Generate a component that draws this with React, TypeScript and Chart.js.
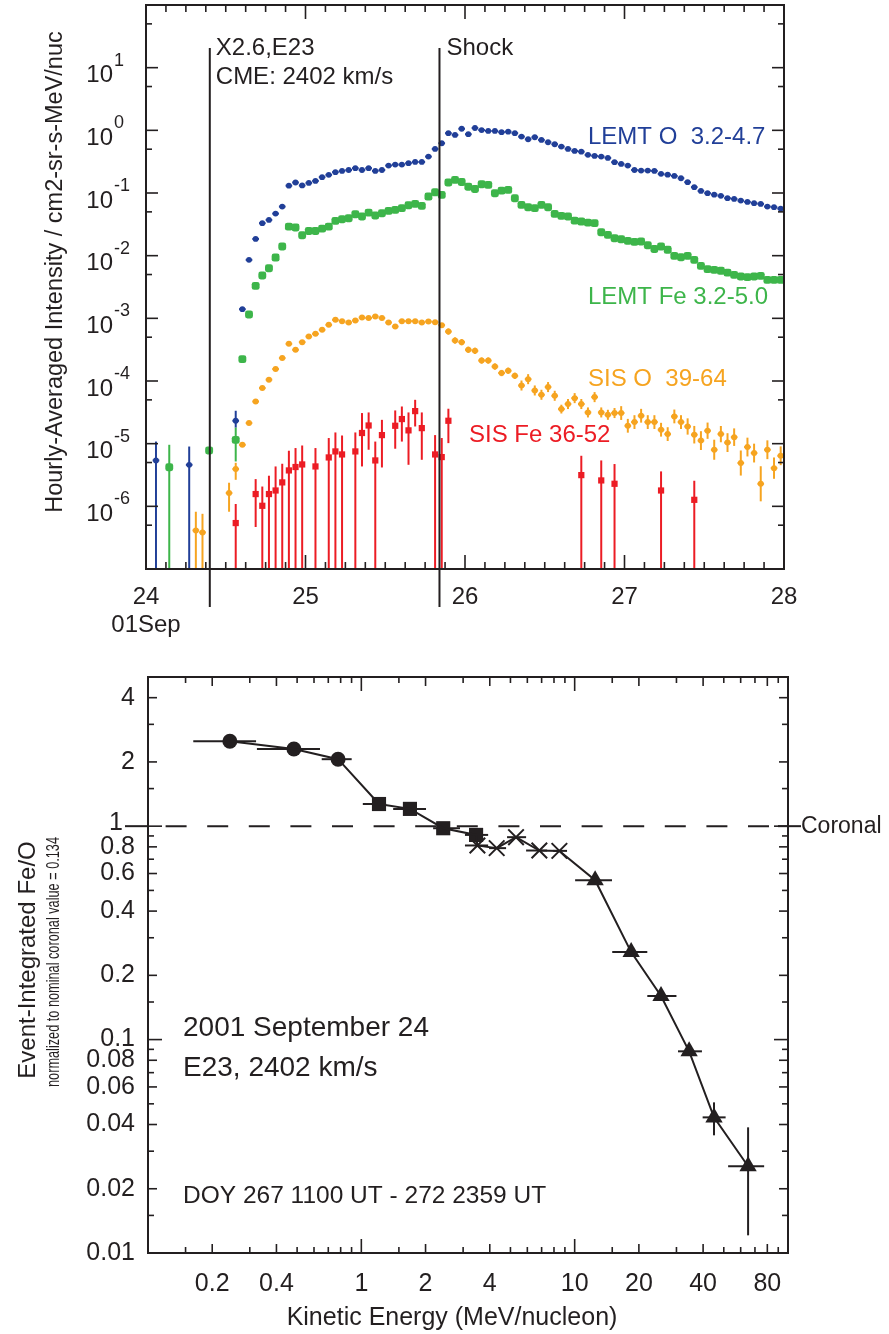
import React, { useEffect, useRef } from 'react';
import { Chart, registerables } from 'chart.js';

Chart.register(...registerables);

const FONT = '"Liberation Sans", Arial, Helvetica, sans-serif';
const INK = '#231f20';
const BLUE = '#213f98';
const GREEN = '#3db54a';
const ORANGE = '#f6a420';
const RED = '#ec1c24';

// ================= TOP PANEL (hourly averages, hours after 24 Sep 00 UT) =================
const dayTicks = [24, 25, 26, 27, 28];
const yExponents = [-6, -5, -4, -3, -2, -1, 0, 1];
const flareDay = 24.4;
const shockDay = 25.84;

// LEMT O 3.2-4.7
const lemtOPreHours = [1, 6, 13];
const lemtOPre = [5.4e-6, 4.6e-6, 2.32e-5];
const lemtOPreHi = [1.08e-5, 9.0e-6, 3.35e-5];
const lemtOPreLo = [0, 0, 1.8e-5];
const lemtOStartHour = 14;
const lemtO = [
  1.40e-3, 8.57e-3, 1.85e-2, 3.30e-2, 3.72e-2, 4.69e-2, 6.07e-2,
  0.131, 0.147, 0.132, 0.145, 0.156, 0.179, 0.195, 0.215, 0.225, 0.233,
  0.249, 0.233, 0.249, 0.225, 0.233, 0.274, 0.284, 0.284, 0.299, 0.313,
  0.313, 0.381, 0.505, 0.622, 0.900, 0.845, 1.06, 0.867, 1.09, 1.01,
  0.977, 0.977, 0.933, 0.953, 0.900, 0.794, 0.721, 0.776, 0.703, 0.646,
  0.600, 0.550, 0.505, 0.469, 0.457, 0.406, 0.391, 0.381, 0.363, 0.310,
  0.291, 0.274, 0.233, 0.228, 0.228, 0.225, 0.202, 0.196, 0.187, 0.172,
  0.149, 0.124, 0.108, 0.0993, 0.0942, 0.0900, 0.0826, 0.0805, 0.0757, 0.0721,
  0.0687, 0.0670, 0.0607, 0.0593, 0.0564,
];

// LEMT Fe 3.2-5.0
const lemtFePreHours = [3, 9, 13];
const lemtFePre = [4.2e-6, 7.8e-6, 1.15e-5];
const lemtFePreHi = [9.6e-6, null, 1.8e-5];
const lemtFePreLo = [0, null, 5.2e-6];
const lemtFeStartHour = 14;
const lemtFe = [
  2.23e-4, 1.15e-3, 3.30e-3, 4.82e-3, 6.31e-3, 9.33e-3, 1.40e-2,
  2.91e-2, 2.81e-2, 2.12e-2, 2.48e-2, 2.48e-2, 2.70e-2, 2.91e-2, 3.59e-2, 3.82e-2, 3.96e-2,
  4.59e-2, 4.21e-2, 4.86e-2, 4.37e-2, 4.76e-2, 5.19e-2, 5.37e-2, 5.73e-2, 6.38e-2, 6.70e-2,
  6.22e-2, 8.77e-2, 0.103, 9.33e-2, 0.147, 0.162, 0.150, 0.126, 0.116, 0.138,
  0.135, 9.93e-2, 0.109, 0.112, 8.26e-2, 6.46e-2, 5.93e-2, 5.73e-2, 6.46e-2, 5.93e-2,
  4.65e-2, 4.32e-2, 4.21e-2, 3.63e-2, 3.50e-2, 3.37e-2, 3.30e-2, 2.37e-2, 2.15e-2, 1.90e-2,
  1.83e-2, 1.72e-2, 1.66e-2, 1.68e-2, 1.47e-2, 1.28e-2, 1.40e-2, 1.24e-2, 9.93e-3, 9.46e-3,
  9.93e-3, 8.57e-3, 6.87e-3, 6.10e-3, 5.94e-3, 5.73e-3, 5.37e-3, 4.94e-3, 4.65e-3, 4.54e-3,
  4.65e-3, 4.76e-3, 4.11e-3, 4.11e-3, 4.11e-3,
];

// SIS O 39-64
const sisOPreHours = [7, 8, 12, 13];
const sisOPre = [4.13e-7, 3.84e-7, 1.63e-6, 3.93e-6];
const sisOPreHi = [8.2e-7, 7.6e-7, 2.38e-6, 4.95e-6];
const sisOPreLo = [0, 0, 8.2e-7, 2.65e-6];
const sisOStartHour = 14;
const sisO = [
  9.6e-6, 2.13e-5, 4.71e-5, 7.71e-5, 1.05e-4, 1.55e-4, 2.32e-4,
  3.92e-4, 3.15e-4, 4.17e-4, 5.13e-4, 5.66e-4, 6.56e-4, 7.87e-4, 9.46e-4, 9.02e-4, 8.57e-4,
  9.23e-4, 1.03e-3, 1.01e-3, 1.07e-3, 1.01e-3, 8.57e-4, 7.40e-4, 9.02e-4, 9.02e-4, 9.02e-4,
  8.57e-4, 8.89e-4, 8.69e-4, 7.78e-4, 6.15e-4, 4.43e-4, 4.17e-4, 3.15e-4, 3.03e-4, 2.12e-4,
  2.12e-4, 1.70e-4, 1.34e-4, 1.46e-4, 1.21e-4, 8.47e-5, 1.07e-4, 7.06e-5, 6.03e-5, 8.0e-5,
  5.81e-5, 3.56e-5, 4.29e-5, 5.33e-5, 4.29e-5, 3.15e-5, 5.53e-5, 3.15e-5, 2.89e-5, 3.08e-5,
  3.08e-5, 1.93e-5, 2.21e-5, 2.79e-5, 2.21e-5, 2.21e-5, 1.67e-5, 1.42e-5, 2.72e-5, 2.21e-5,
  1.88e-5, 1.39e-5, 1.12e-5, 1.61e-5, 8.0e-6, 1.42e-5, 1.04e-5, 1.27e-5, 4.91e-6, 8.83e-6,
  7.08e-6, 2.29e-6, 8.0e-6, 4.07e-6, 6.41e-6,
];
// half-width of the vertical error bar, in decades
const sisOErrDex = [
  0.03, 0.03, 0.03, 0.03, 0.03, 0.03, 0.03,
  0.03, 0.03, 0.03, 0.03, 0.03, 0.03, 0.03, 0.03, 0.03, 0.03,
  0.03, 0.03, 0.03, 0.03, 0.03, 0.03, 0.03, 0.03, 0.03, 0.03,
  0.03, 0.03, 0.03, 0.03, 0.05, 0.05, 0.05, 0.05, 0.05, 0.05,
  0.05, 0.05, 0.05, 0.05, 0.05, 0.08, 0.08, 0.08, 0.08, 0.08,
  0.08, 0.07, 0.08, 0.08, 0.08, 0.08, 0.08, 0.08, 0.08, 0.08,
  0.11, 0.11, 0.11, 0.11, 0.11, 0.11, 0.11, 0.11, 0.11, 0.11,
  0.13, 0.14, 0.15, 0.13, 0.16, 0.13, 0.15, 0.14, 0.20, 0.15,
  0.15, 0.28, 0.15, 0.17, 0.15,
];

// SIS Fe 36-52 (lower bound 0 = bar reaches the axis)
const sisFeHours = [13, 16, 17, 18, 19, 20, 21, 22, 23, 25, 27, 28, 29, 31, 32, 33, 34, 35, 37, 38, 39, 40, 41, 43, 44, 45, 65, 68, 70, 77, 82];
const sisFe = [
  5.41e-7, 1.57e-6, 1.02e-6, 1.57e-6, 1.79e-6, 2.41e-6, 3.74e-6, 4.24e-6, 4.66e-6, 4.33e-6,
  6.03e-6, 7.52e-6, 6.73e-6, 7.52e-6, 1.48e-5, 1.95e-5, 5.40e-6, 1.37e-5, 1.93e-5, 2.47e-5,
  1.63e-5, 3.31e-5, 1.77e-5, 6.73e-6, 6.11e-6, 2.32e-5, 3.15e-6, 2.59e-6, 2.29e-6, 1.79e-6,
  1.27e-6,
];
const sisFeHi = [
  1.09e-6, 2.72e-6, 2.07e-6, 3.08e-6, 4.33e-6, 4.78e-6, 7.71e-6, 8.51e-6, 9.35e-6, 8.51e-6,
  1.23e-5, 1.51e-5, 1.35e-5, 1.51e-5, 3.08e-5, 3.15e-5, 1.08e-5, 2.40e-5, 3.39e-5, 3.92e-5,
  3.15e-5, 5.01e-5, 3.15e-5, 1.37e-5, 1.23e-5, 3.61e-5, 6.41e-6, 5.40e-6, 4.73e-6, 3.61e-6,
  2.56e-6,
];
const sisFeLo = [
  0, 4.68e-7, 0, 0, 0, 0, 0, 0, 0, 0,
  0, 0, 0, 0, 4.33e-6, 8.0e-6, 0, 4.17e-6, 8.30e-6, 1.08e-5,
  4.60e-6, 1.88e-5, 5.53e-6, 0, 0, 1.02e-5, 0, 0, 0, 0,
  0,
];

// ================= BOTTOM PANEL (Fe/O vs energy) =================
const circE = [0.242, 0.483, 0.778];
const circR = [2.5, 2.3, 2.06];
const circELo = [0.163, 0.324, 0.652];
const circEHi = [0.321, 0.64, 0.901];

const sqE = [1.21, 1.69, 2.42, 3.45];
const sqR = [1.27, 1.205, 0.978, 0.91];
const sqELo = [1.016, 1.41, 2.17, 3.06];
const sqEHi = [1.306, 2.01, 2.9, 3.93];

const crE = [3.5, 4.31, 5.31, 6.83, 8.48];
const crR = [0.812, 0.789, 0.888, 0.769, 0.766];
const crELo = [3.06, 3.97, 4.82, 5.92, 7.93];
const crEHi = [3.93, 4.77, 5.92, 7.43, 9.21];

const triE = [12.47, 18.4, 25.4, 34.4, 45.0, 65.0];
const triR = [0.558, 0.257, 0.16, 0.0881, 0.0432, 0.0255];
const triELo = [10.05, 15.0, 21.9, 30.5, 39.8, 52.4];
const triEHi = [14.96, 21.9, 30.0, 39.5, 51.0, 77.3];
const triRLo = [null, null, null, null, 0.0356, 0.0121];
const triRHi = [null, null, null, null, 0.0508, 0.0388];

const coronalLevel = 1;
const xLabelVals = [0.2, 0.4, 1, 2, 4, 10, 20, 40, 80];
const yLabelVals = [4, 2, 1, 0.8, 0.6, 0.4, 0.2, 0.1, 0.08, 0.06, 0.04, 0.02, 0.01];
const logMults = [1, 1.5, 2, 3, 4, 5, 6, 7, 8, 9];

// ---------------- helpers ----------------
const hourToDay = (h: number) => 24 + (h + 0.5) / 24;
const BIN_HALF = 0.5 / 24;

function seg(ctx: CanvasRenderingContext2D, x1: number, y1: number, x2: number, y2: number) {
  ctx.beginPath();
  ctx.moveTo(x1, y1);
  ctx.lineTo(x2, y2);
  ctx.stroke();
}

function txt(ctx: CanvasRenderingContext2D, s: string, x: number, y: number, size: number, align: CanvasTextAlign = 'left', color = INK) {
  ctx.font = `${size}px ${FONT}`;
  ctx.fillStyle = color;
  ctx.textAlign = align;
  ctx.textBaseline = 'middle';
  ctx.fillText(s, x, y);
}

function vtxt(ctx: CanvasRenderingContext2D, s: string, x: number, y: number, size: number, targetLen?: number) {
  ctx.save();
  ctx.translate(x, y);
  ctx.rotate(-Math.PI / 2);
  ctx.font = `${size}px ${FONT}`;
  if (targetLen) {
    const w = ctx.measureText(s).width;
    ctx.scale(targetLen / w, 1);
  }
  ctx.fillStyle = INK;
  ctx.textAlign = 'center';
  ctx.textBaseline = 'middle';
  ctx.fillText(s, 0, 0);
  ctx.restore();
}

function mergePoints(preH: number[], pre: number[], preHi: (number | null)[], preLo: (number | null)[], start: number, vals: number[], errDex?: number[]) {
  const out: any[] = [];
  preH.forEach((h, i) => out.push({ x: hourToDay(h), y: pre[i], hi: preHi[i], lo: preLo[i] }));
  vals.forEach((v, i) => {
    const p: any = { x: hourToDay(start + i), y: v, hi: null, lo: null };
    if (errDex) {
      const f = Math.pow(10, errDex[i]);
      p.hi = v * f;
      p.lo = v / f;
    }
    out.push(p);
  });
  return out;
}

// ---------------- top panel plugin ----------------
const topDecor = {
  id: 'topDecor',
  beforeDatasetsDraw(chart: any) {
    const { ctx, chartArea: a } = chart;
    const xs = chart.scales.x, ys = chart.scales.y;
    ctx.save();
    ctx.beginPath();
    ctx.rect(a.left, a.top, a.right - a.left, a.bottom - a.top);
    ctx.clip();
    for (const ds of chart.data.datasets as any[]) {
      ctx.strokeStyle = ds.borderColor;
      ctx.lineWidth = 2;
      for (const p of ds.data) {
        const px = xs.getPixelForValue(p.x);
        const py = ys.getPixelForValue(p.y);
        if (p.hi != null) {
          const top = ys.getPixelForValue(p.hi);
          const bot = p.lo && p.lo > 0 ? ys.getPixelForValue(p.lo) : a.bottom;
          seg(ctx, px, top, px, bot);
        }
        if (ds.binHalf) {
          seg(ctx, xs.getPixelForValue(p.x - ds.binHalf), py, xs.getPixelForValue(p.x + ds.binHalf), py);
        }
      }
    }
    ctx.restore();
  },
  afterDraw(chart: any) {
    const { ctx, chartArea: a } = chart;
    const xs = chart.scales.x, ys = chart.scales.y;
    ctx.save();
    ctx.strokeStyle = INK;
    ctx.lineWidth = 2;
    ctx.strokeRect(a.left, a.top, a.right - a.left, a.bottom - a.top);
    ctx.lineWidth = 1.6;
    // y ticks: decades and 5x
    for (let n = -7; n <= 2; n++) {
      for (const [m, len] of [[1, 12], [5, 6]] as [number, number][]) {
        const v = m * Math.pow(10, n);
        if (v <= ys.min * 1.0001 || v >= ys.max * 0.9999) continue;
        const py = ys.getPixelForValue(v);
        seg(ctx, a.left, py, a.left + len, py);
        seg(ctx, a.right, py, a.right - len, py);
      }
    }
    // x ticks every 3 hours
    for (let h = 3; h < 96; h += 3) {
      const px = xs.getPixelForValue(24 + h / 24);
      const len = h % 24 === 0 ? 14 : 7;
      seg(ctx, px, a.bottom, px, a.bottom - len);
      seg(ctx, px, a.top, px, a.top + len);
    }
    // y labels 10^n
    for (const n of yExponents) {
      const py = ys.getPixelForValue(Math.pow(10, n));
      txt(ctx, '10', a.left - 33, py + 8, 24, 'right');
      txt(ctx, String(n), a.left - 32, py - 7, 18, 'left');
    }
    // x labels
    for (const d of dayTicks) {
      txt(ctx, String(d), xs.getPixelForValue(d), a.bottom + 28, 24, 'center');
    }
    txt(ctx, '01Sep', xs.getPixelForValue(24), a.bottom + 56, 24, 'center');
    // event lines
    ctx.lineWidth = 2;
    const fx = xs.getPixelForValue(flareDay);
    const sx = xs.getPixelForValue(shockDay);
    seg(ctx, fx, 48, fx, a.bottom + 38);
    seg(ctx, sx, 48, sx, a.bottom + 38);
    txt(ctx, 'X2.6,E23', fx + 6, 48, 24);
    txt(ctx, 'CME: 2402 km/s', fx + 6, 77, 24);
    txt(ctx, 'Shock', sx + 7, 48, 24);
    // series labels
    txt(ctx, 'LEMT O  3.2-4.7', 588, 137, 24, 'left', BLUE);
    txt(ctx, 'LEMT Fe 3.2-5.0', 588, 297, 24, 'left', GREEN);
    txt(ctx, 'SIS O  39-64', 588, 379, 24, 'left', ORANGE);
    txt(ctx, 'SIS Fe 36-52', 469, 435, 24, 'left', RED);
    // y title
    vtxt(ctx, 'Hourly-Averaged Intensity / cm2-sr-s-MeV/nuc', 56, 272, 23.5);
    ctx.restore();
  },
};

// ---------------- bottom panel plugin ----------------
const botDecor = {
  id: 'botDecor',
  beforeDatasetsDraw(chart: any) {
    const { ctx } = chart;
    const xs = chart.scales.x, ys = chart.scales.y;
    ctx.save();
    ctx.strokeStyle = INK;
    ctx.lineWidth = 2;
    for (const ds of chart.data.datasets as any[]) {
      for (const p of ds.data) {
        const px = xs.getPixelForValue(p.x);
        const py = ys.getPixelForValue(p.y);
        if (p.xLo != null) seg(ctx, xs.getPixelForValue(p.xLo), py, xs.getPixelForValue(p.xHi), py);
        if (p.yLo != null) seg(ctx, px, ys.getPixelForValue(p.yHi), px, ys.getPixelForValue(p.yLo));
      }
    }
    ctx.restore();
  },
  afterDraw(chart: any) {
    const { ctx, chartArea: a } = chart;
    const xs = chart.scales.x, ys = chart.scales.y;
    ctx.save();
    ctx.strokeStyle = INK;
    ctx.lineWidth = 2;
    ctx.strokeRect(a.left, a.top, a.right - a.left, a.bottom - a.top);
    ctx.lineWidth = 1.6;
    const near = (v: number, arr: number[]) => arr.some((t) => Math.abs(t - v) / t < 1e-6);
    for (let n = -2; n <= 2; n++) {
      for (const m of logMults) {
        const v = m * Math.pow(10, n);
        // x ticks
        if (v > xs.min * 1.0001 && v < xs.max * 0.9999) {
          const px = xs.getPixelForValue(v);
          const len = m === 1 ? 14 : near(v, xLabelVals) ? 9 : 6;
          seg(ctx, px, a.bottom, px, a.bottom - len);
          seg(ctx, px, a.top, px, a.top + len);
        }
        // y ticks
        if (v > ys.min * 1.0001 && v < ys.max * 0.9999) {
          const py = ys.getPixelForValue(v);
          const len = m === 1 ? 14 : near(v, yLabelVals) ? 9 : 6;
          seg(ctx, a.left, py, a.left + len, py);
          seg(ctx, a.right, py, a.right - len, py);
        }
      }
    }
    // x labels
    for (const v of xLabelVals) txt(ctx, String(v), xs.getPixelForValue(v), a.bottom + 31, 25, 'center');
    // y labels
    for (const v of yLabelVals) {
      const py = ys.getPixelForValue(v);
      if (v === coronalLevel) {
        txt(ctx, '1', a.left - 25, py - 3, 25, 'right');
      } else {
        txt(ctx, String(v), a.left - 13, py, 25, 'right');
      }
    }
    // coronal reference line
    const cy = ys.getPixelForValue(coronalLevel);
    ctx.lineWidth = 2;
    seg(ctx, a.left - 23, cy, a.left, cy);
    ctx.save();
    ctx.setLineDash([21, 20.6]);
    ctx.lineDashOffset = 24;
    seg(ctx, a.left, cy, a.right, cy);
    ctx.restore();
    seg(ctx, a.right - 10, cy, a.right + 13, cy);
    txt(ctx, 'Coronal', a.right + 13, cy, 23);
    // annotations
    txt(ctx, '2001 September 24', 183, 388, 28);
    txt(ctx, 'E23, 2402 km/s', 183, 428, 28);
    txt(ctx, 'DOY 267 1100 UT - 272 2359 UT', 183, 556, 24.5);
    // titles
    txt(ctx, 'Kinetic Energy (MeV/nucleon)', 452, 678, 25, 'center');
    vtxt(ctx, 'Event-Integrated Fe/O', 28, 320, 24);
    vtxt(ctx, 'normalized to nominal coronal value = 0.134', 54, 322, 18, 250);
    ctx.restore();
  },
};

function bottomPoints(e: number[], r: number[], eLo: number[], eHi: number[], rLo?: (number | null)[], rHi?: (number | null)[]) {
  return e.map((x, i) => ({
    x,
    y: r[i],
    xLo: eLo[i],
    xHi: eHi[i],
    yLo: rLo ? rLo[i] : null,
    yHi: rHi ? rHi[i] : null,
  }));
}

export default function App() {
  const topRef = useRef<HTMLCanvasElement>(null);
  const botRef = useRef<HTMLCanvasElement>(null);

  useEffect(() => {
    const top = new Chart(topRef.current as HTMLCanvasElement, {
      type: 'scatter',
      data: {
        datasets: [
          {
            label: 'LEMT O 3.2-4.7',
            data: mergePoints(lemtOPreHours, lemtOPre, lemtOPreHi, lemtOPreLo, lemtOStartHour, lemtO),
            pointStyle: 'circle',
            pointRadius: 2.9,
            backgroundColor: BLUE,
            borderColor: BLUE,
            borderWidth: 0,
            binHalf: BIN_HALF,
          } as any,
          {
            label: 'LEMT Fe 3.2-5.0',
            data: mergePoints(lemtFePreHours, lemtFePre, lemtFePreHi, lemtFePreLo, lemtFeStartHour, lemtFe),
            pointStyle: 'rectRounded',
            pointRadius: 4.6,
            backgroundColor: GREEN,
            borderColor: GREEN,
            borderWidth: 0,
          } as any,
          {
            label: 'SIS O 39-64',
            data: mergePoints(sisOPreHours, sisOPre, sisOPreHi, sisOPreLo, sisOStartHour, sisO, sisOErrDex),
            pointStyle: 'circle',
            pointRadius: 3,
            backgroundColor: ORANGE,
            borderColor: ORANGE,
            borderWidth: 0,
            binHalf: BIN_HALF,
          } as any,
          {
            label: 'SIS Fe 36-52',
            data: sisFeHours.map((h, i) => ({ x: hourToDay(h), y: sisFe[i], hi: sisFeHi[i], lo: sisFeLo[i] })),
            pointStyle: 'rect',
            pointRadius: 4.4,
            backgroundColor: RED,
            borderColor: RED,
            borderWidth: 0,
          } as any,
        ],
      },
      options: {
        responsive: false,
        animation: false,
        events: [],
        layout: { padding: { left: 146, right: 105, top: 5, bottom: 71 } },
        plugins: { legend: { display: false }, tooltip: { enabled: false } },
        scales: {
          x: { type: 'linear', min: 24, max: 28, display: false },
          y: { type: 'logarithmic', min: 1e-7, max: 100, display: false },
        },
      },
      plugins: [topDecor],
    });

    const circ = bottomPoints(circE, circR, circELo, circEHi);
    const sq = bottomPoints(sqE, sqR, sqELo, sqEHi);
    const cr = bottomPoints(crE, crR, crELo, crEHi);
    const tri = bottomPoints(triE, triR, triELo, triEHi, triRLo, triRHi);
    const all = [...circ, ...sq, ...cr, ...tri].map((p) => ({ x: p.x, y: p.y })).sort((p, q) => p.x - q.x);

    const bot = new Chart(botRef.current as HTMLCanvasElement, {
      type: 'scatter',
      data: {
        datasets: [
          { label: 'trend', data: all, showLine: true, pointRadius: 0, borderColor: INK, borderWidth: 2 } as any,
          { label: 'circles', data: circ, pointStyle: 'circle', pointRadius: 7.5, backgroundColor: INK, borderColor: INK, borderWidth: 0 } as any,
          { label: 'squares', data: sq, pointStyle: 'rect', pointRadius: 10, backgroundColor: INK, borderColor: INK, borderWidth: 0 } as any,
          { label: 'crosses', data: cr, pointStyle: 'crossRot', pointRadius: 11, backgroundColor: INK, borderColor: INK, borderWidth: 2 } as any,
          { label: 'triangles', data: tri, pointStyle: 'triangle', pointRadius: 10, backgroundColor: INK, borderColor: INK, borderWidth: 0 } as any,
        ],
      },
      options: {
        responsive: false,
        animation: false,
        events: [],
        layout: { padding: { left: 148, right: 101, top: 37, bottom: 81 } },
        plugins: { legend: { display: false }, tooltip: { enabled: false } },
        scales: {
          x: { type: 'logarithmic', min: 0.1, max: 100, display: false },
          y: { type: 'logarithmic', min: 0.01, max: 5, display: false },
        },
      },
      plugins: [botDecor],
    });

    return () => {
      top.destroy();
      bot.destroy();
    };
  }, []);

  return (
    <div style={{ position: 'absolute', left: 0, top: 0, width: 889, height: 1334, background: '#fff' }}>
      <canvas ref={topRef} width={889} height={640} style={{ position: 'absolute', left: 0, top: 0, width: 889, height: 640 }} />
      <canvas ref={botRef} width={889} height={694} style={{ position: 'absolute', left: 0, top: 640, width: 889, height: 694 }} />
    </div>
  );
}
